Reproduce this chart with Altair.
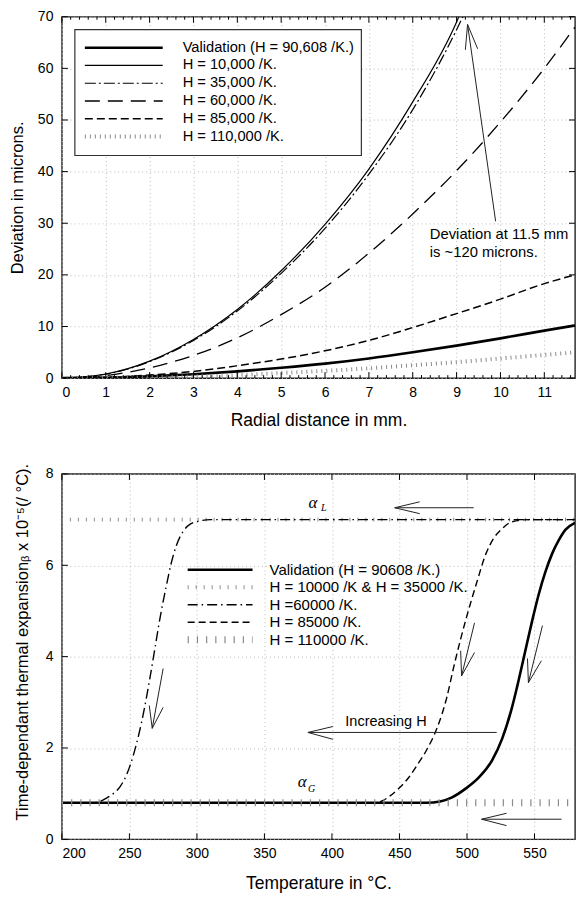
import altair as alt
import pandas as pd

FONT = "Liberation Sans"
SERIF = "Liberation Serif"

# ---------------- top panel data (deviation vs radial distance) ----------------
radial_mm = [0, 1, 2, 3, 4, 5, 6, 7, 8, 9, 10, 11, 11.7]
dev_validation = [0, 0.08, 0.35, 0.75, 1.3, 2.0, 2.8, 3.8, 5.0, 6.3, 7.7, 9.2, 10.2]
radial_h10 = [0, 1, 2, 3, 4, 5, 6, 7, 8, 9, 9.1]
dev_h10 = [0, 0.8, 3.3, 7.5, 13.3, 20.8, 29.8, 40.5, 53.5, 69, 71]
radial_h35 = [0, 1, 2, 3, 4, 5, 6, 7, 8, 9, 9.25]
dev_h35 = [0, 0.75, 3.2, 7.3, 13, 20.3, 29, 39.5, 52, 67.5, 72]
dev_h60 = [0, 0.5, 2, 4.4, 7.8, 12.3, 17.6, 24.2, 31.8, 40.2, 49.6, 60, 68]
dev_h85 = [0, 0.15, 0.6, 1.3, 2.4, 3.7, 5.3, 7.3, 9.8, 12.5, 15.3, 18.3, 20]
dev_h110 = [0, 0.05, 0.15, 0.35, 0.6, 1.0, 1.4, 1.9, 2.5, 3.1, 3.8, 4.5, 5.0]

top_names = ["Validation (H = 90,608 /K.)", "H = 10,000 /K.", "H = 35,000 /K.",
             "H = 60,000 /K.", "H = 85,000 /K.", "H = 110,000 /K."]
top_x = [radial_mm, radial_h10, radial_h35, radial_mm, radial_mm, radial_mm]
top_y = [dev_validation, dev_h10, dev_h35, dev_h60, dev_h85, dev_h110]
top_styles = [
    dict(strokeWidth=2.6, color="black"),
    dict(strokeWidth=1.2, color="black"),
    dict(strokeWidth=1.2, color="black", strokeDash=[11, 3, 2, 3]),
    dict(strokeWidth=1.3, color="black", strokeDash=[15, 8]),
    dict(strokeWidth=1.5, color="black", strokeDash=[8, 4]),
    dict(strokeWidth=4, color="#8a8a8a", strokeDash=[1, 4]),
]
top_note = ["Deviation at 11.5 mm", "is ~120 microns."]

# ---------------- bottom panel data (alpha vs temperature) ----------------
t_validation = [200, 470, 480, 489, 499, 509, 518.6, 526, 533, 538, 543, 548, 553, 558, 563, 568, 573, 580]
a_validation = [0.8, 0.8, 0.83, 0.92, 1.11, 1.36, 1.73, 2.2, 2.85, 3.45, 4.1, 4.75, 5.35, 5.85, 6.25, 6.55, 6.78, 6.93]
t_h10_35 = [200, 580]
a_h10_35 = [7.0, 7.0]
t_h60 = [200, 222, 228, 233, 238, 243, 248, 253, 257, 261, 265, 269, 273, 277, 281, 285, 290, 295, 302, 310, 580]
a_h60 = [0.8, 0.8, 0.83, 0.9, 1.0, 1.15, 1.42, 1.85, 2.3, 2.85, 3.5, 4.2, 4.9, 5.5, 6.05, 6.45, 6.75, 6.9, 6.97, 7.0, 7.0]
t_h85 = [200, 432, 437, 443, 450, 457, 463, 470, 478, 485, 490, 495, 500, 507, 514, 520, 526, 533, 546, 580]
a_h85 = [0.8, 0.8, 0.84, 0.95, 1.13, 1.36, 1.62, 1.95, 2.45, 3.1, 3.75, 4.35, 4.9, 5.6, 6.25, 6.6, 6.8, 6.95, 7.0, 7.0]
t_h110 = [200, 580]
a_h110 = [0.8, 0.8]

bot_names = ["Validation (H = 90608 /K.)", "H = 10000 /K & H = 35000 /K.", "H =60000 /K.",
             "H = 85000 /K.", "H = 110000 /K."]
bot_x = [t_validation, t_h10_35, t_h60, t_h85, t_h110]
bot_y = [a_validation, a_h10_35, a_h60, a_h85, a_h110]
bot_styles = [
    dict(strokeWidth=2.6, color="black"),
    dict(strokeWidth=4, color="#8a8a8a", strokeDash=[1, 7]),
    dict(strokeWidth=1.4, color="black", strokeDash=[10, 4, 1.5, 4]),
    dict(strokeWidth=1.4, color="black", strokeDash=[7, 4]),
    dict(strokeWidth=7, color="#8a8a8a", strokeDash=[1.2, 8]),
]

# arrows (tail x, tail y, tip x, tip y) in data units
top_arrow = dict(x=[9.89, 9.25, 9.25], y=[30.4, 68.5, 68.5], x2=[9.25, 9.2, 9.48], y2=[68.5, 63.6, 63.8])
bot_arrows = dict(
    x=[505, 446.5, 446.5, 522, 382.2, 382.2, 570, 510.8, 510.8,
       275, 266.9, 266.9, 505.6, 496, 496, 555.9, 545.5, 545.5],
    y=[7.26, 7.26, 7.26, 2.34, 2.34, 2.34, 0.44, 0.44, 0.44,
       3.74, 2.43, 2.43, 4.74, 3.58, 3.58, 4.68, 3.43, 3.43],
    x2=[446.5, 465, 465, 382.2, 400.7, 400.7, 510.8, 529.3, 529.3,
        266.9, 264.7, 275, 496, 495.3, 505.6, 545.5, 544.8, 555.1],
    y2=[7.26, 7.39, 7.13, 2.34, 2.47, 2.19, 0.44, 0.57, 0.3,
        2.43, 2.93, 2.89, 3.58, 4.13, 4.09, 3.43, 3.96, 3.91],
)

W = 514
H1 = 362
H2 = 366

# ---------------- top panel ----------------
xs1 = alt.Scale(domain=[0, 11.7], nice=False, zero=False)
ys1 = alt.Scale(domain=[0, 70], nice=False, zero=False)
xax1 = alt.Axis(values=list(range(12)), title="Radial distance in mm.", labelPadding=7, titlePadding=12)
yax1 = alt.Axis(values=list(range(0, 71, 10)), title="Deviation in microns.", labelPadding=9, titlePadding=12,
                titleFontSize=16.5)


def X1(f):
    return alt.X(f"{f}:Q", scale=xs1, axis=xax1)


def Y1(f):
    return alt.Y(f"{f}:Q", scale=ys1, axis=yax1)


top_layers = []
for name, xv, yv, st in zip(top_names, top_x, top_y, top_styles):
    df = pd.DataFrame({"x": xv, "y": yv, "series": name})
    top_layers.append(alt.Chart(df).mark_line(clip=True, interpolate="monotone", **st).encode(
        x=X1("x"), y=Y1("y"), order="x:Q"))

maj1 = pd.DataFrame({"v": list(range(12))})
min1 = pd.DataFrame({"v": [round(i * 0.2, 1) for i in range(59) if i % 5 != 0]})
ymaj1 = pd.DataFrame({"v": list(range(0, 71, 10))})
for d, L in [(maj1, 6), (min1, 3)]:
    top_layers.append(alt.Chart(d).mark_rule(color="black", strokeWidth=1).encode(
        x=X1("v"), y=alt.value(H1), y2=alt.value(H1 - L)))
    top_layers.append(alt.Chart(d).mark_rule(color="black", strokeWidth=1).encode(
        x=X1("v"), y=alt.value(0), y2=alt.value(L)))
top_layers.append(alt.Chart(ymaj1).mark_rule(color="black", strokeWidth=1).encode(
    y=Y1("v"), x=alt.value(0), x2=alt.value(6)))
top_layers.append(alt.Chart(ymaj1).mark_rule(color="black", strokeWidth=1).encode(
    y=Y1("v"), x=alt.value(W), x2=alt.value(W - 6)))

# legend box
one = pd.DataFrame({"a": [0]})
top_layers.append(alt.Chart(one).mark_rect(fill="white", stroke="#333", strokeWidth=1.2).encode(
    x=alt.value(13), x2=alt.value(300), y=alt.value(13), y2=alt.value(139)))
rows1 = [31, 48.8, 66.6, 84.4, 102.2, 120]
for name, st, ry in zip(top_names, top_styles, rows1):
    top_layers.append(alt.Chart(one).mark_rule(**st).encode(
        x=alt.value(23), x2=alt.value(101), y=alt.value(ry)))
top_layers.append(alt.Chart(pd.DataFrame({"t": top_names, "ry": rows1})).mark_text(
    align="left", baseline="middle", font=FONT, fontSize=14.7, color="black").encode(
    x=alt.value(121), y=alt.Y("ry:Q", scale=None), text="t:N"))

# annotation arrow + text
top_layers.append(alt.Chart(pd.DataFrame(top_arrow)).mark_rule(color="#222", strokeWidth=1).encode(
    x=X1("x"), y=Y1("y"), x2="x2:Q", y2="y2:Q"))
top_layers.append(alt.Chart(pd.DataFrame({"x": [8.39, 8.39], "y": [27.7, 24.2], "t": top_note})).mark_text(
    align="left", baseline="middle", font=FONT, fontSize=14.8, color="black").encode(
    x=X1("x"), y=Y1("y"), text="t:N"))

top = alt.layer(*top_layers).properties(width=W, height=H1)

# ---------------- bottom panel ----------------
xs2 = alt.Scale(domain=[200, 580], nice=False, zero=False)
ys2 = alt.Scale(domain=[0, 8], nice=False, zero=False)
xax2 = alt.Axis(values=list(range(200, 551, 50)), title="Temperature in °C.", labelPadding=7, titlePadding=14)
yax2 = alt.Axis(values=[0, 2, 4, 6, 8], title="Time-dependant thermal expansionᵦ  x 10⁻⁵(/ °C).",
                labelPadding=9, titlePadding=15, titleFontSize=16.5, titleY=168)


def X2(f):
    return alt.X(f"{f}:Q", scale=xs2, axis=xax2)


def Y2(f):
    return alt.Y(f"{f}:Q", scale=ys2, axis=yax2)


bot_layers = []
for name, xv, yv, st in zip(bot_names, bot_x, bot_y, bot_styles):
    df = pd.DataFrame({"x": xv, "y": yv, "series": name})
    bot_layers.append(alt.Chart(df).mark_line(clip=True, interpolate="monotone", **st).encode(
        x=X2("x"), y=Y2("y"), order="x:Q"))

maj2 = pd.DataFrame({"v": list(range(200, 581, 50))})
ymaj2 = pd.DataFrame({"v": [0, 2, 4, 6, 8]})
bot_layers.append(alt.Chart(maj2).mark_rule(color="black", strokeWidth=1).encode(
    x=X2("v"), y=alt.value(H2), y2=alt.value(H2 - 6)))
bot_layers.append(alt.Chart(maj2).mark_rule(color="black", strokeWidth=1).encode(
    x=X2("v"), y=alt.value(0), y2=alt.value(6)))
bot_layers.append(alt.Chart(ymaj2).mark_rule(color="black", strokeWidth=1).encode(
    y=Y2("v"), x=alt.value(0), x2=alt.value(6)))

rows2 = [96, 113.5, 131, 148.5, 166]
for name, st, ry in zip(bot_names, bot_styles, rows2):
    bot_layers.append(alt.Chart(one).mark_rule(**st).encode(
        x=alt.value(126), x2=alt.value(191), y=alt.value(ry)))
bot_layers.append(alt.Chart(pd.DataFrame({"t": bot_names, "ry": rows2})).mark_text(
    align="left", baseline="middle", font=FONT, fontSize=15, color="black").encode(
    x=alt.value(208), y=alt.Y("ry:Q", scale=None), text="t:N"))

bot_layers.append(alt.Chart(pd.DataFrame(bot_arrows)).mark_rule(color="#222", strokeWidth=1).encode(
    x=X2("x"), y=Y2("y"), x2="x2:Q", y2="y2:Q"))
bot_layers.append(alt.Chart(pd.DataFrame({"x": [440], "y": [2.56], "t": ["Increasing H"]})).mark_text(
    align="center", baseline="middle", font=FONT, fontSize=14.5, color="black").encode(
    x=X2("x"), y=Y2("y"), text="t:N"))
bot_layers.append(alt.Chart(pd.DataFrame({"x": [386, 378], "y": [7.37, 1.25], "t": ["α", "α"]})).mark_text(
    align="center", baseline="middle", font=SERIF, fontStyle="italic", fontSize=17, color="black").encode(
    x=X2("x"), y=Y2("y"), text="t:N"))
bot_layers.append(alt.Chart(pd.DataFrame({"x": [394, 385], "y": [7.25, 1.1], "t": ["L", "G"]})).mark_text(
    align="center", baseline="middle", font=SERIF, fontStyle="italic", fontSize=10, color="black").encode(
    x=X2("x"), y=Y2("y"), text="t:N"))

bottom = alt.layer(*bot_layers).properties(width=W, height=H2)

chart = alt.vconcat(top, bottom, spacing=96, bounds="flush").properties(
    padding={"left": 8, "top": 8, "right": 0, "bottom": 0}
).configure_view(
    stroke="#222", strokeWidth=1.4
).configure_axis(
    labelFont=FONT, labelFontSize=14, labelColor="black",
    titleFont=FONT, titleFontSize=17.5, titleFontWeight="normal", titleColor="black",
    grid=True, gridColor="#bbbbbb", gridDash=[1, 3], gridWidth=1,
    domain=False, ticks=False
)

chart.save("out.html", embed_options={"renderer": "svg", "actions": False})
